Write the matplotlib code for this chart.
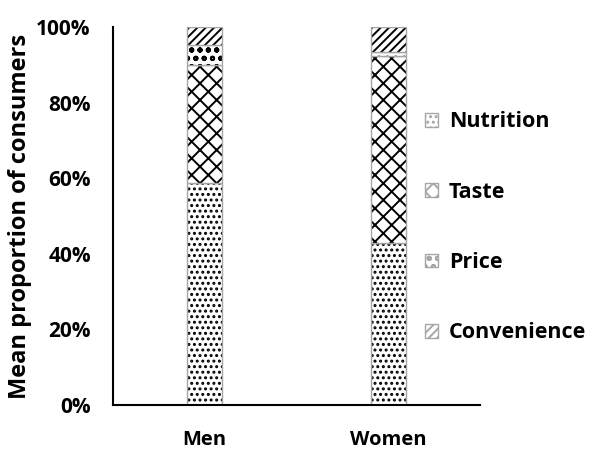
import matplotlib
matplotlib.use("Agg")
import matplotlib.pyplot as plt
from matplotlib.patches import Patch
import numpy as np

plt.rcParams['font.family'] = ['Open Sans', 'DejaVu Sans']
plt.rcParams['hatch.linewidth'] = 1.4

categories = ["Men", "Women"]
series_names = ["Nutrition", "Taste", "Price", "Convenience"]
nutrition = [58.7, 42.9]
taste = [31.3, 49.4]
price = [5.2, 1.1]
convenience = [4.8, 6.6]
yticklabels = ["0%", "20%", "40%", "60%", "80%", "100%"]

values = [nutrition, taste, price, convenience]
hatches = ["...", "xx", "oo", "////"]
edge_gray = "#a6a6a6"

fig = plt.figure(figsize=(5.9, 4.49), dpi=100)
ax = fig.add_axes([0.1915, 0.098, 0.622, 0.842])

x = np.arange(len(categories))
width = 0.19
bottom = np.zeros(len(categories))
for name, vals, h in zip(series_names, values, hatches):
    vals = np.array(vals, dtype=float)
    ax.bar(x, vals, width, bottom=bottom, color="white", edgecolor="black",
           hatch=h, linewidth=0)
    ax.bar(x, vals, width, bottom=bottom, fill=False, edgecolor=edge_gray,
           linewidth=1.0)
    bottom += vals

ax.set_xlim(-0.5, 1.5)
ax.set_ylim(0, 100)
ax.set_yticks(np.arange(0, 101, 20))
ax.set_yticklabels(yticklabels, fontsize=15, fontweight="bold")
ax.set_xticks(x)
ax.set_xticklabels(categories, fontsize=14.5, fontweight="bold")
ax.tick_params(axis="both", length=0)
ax.tick_params(axis="y", pad=16)
ax.tick_params(axis="x", pad=18)
for s in ["top", "right"]:
    ax.spines[s].set_visible(False)
for s in ["left", "bottom"]:
    ax.spines[s].set_linewidth(1.5)
    ax.spines[s].set_color("black")

ax.set_ylabel("Mean proportion of consumers", fontsize=17, fontweight="bold",
              labelpad=3)

handles = [Patch(facecolor="white", edgecolor=edge_gray, hatch=h, linewidth=1.0)
           for h in hatches]
leg = fig.legend(handles, series_names, loc="upper left",
                 bbox_to_anchor=(406 / 590, 1 - 92 / 449),
                 frameon=False, handlelength=0.6, handleheight=0.6,
                 handletextpad=0.5, labelspacing=2.29,
                 prop={"size": 15.5, "weight": "bold"})

fig.savefig("out.png", dpi=100)
